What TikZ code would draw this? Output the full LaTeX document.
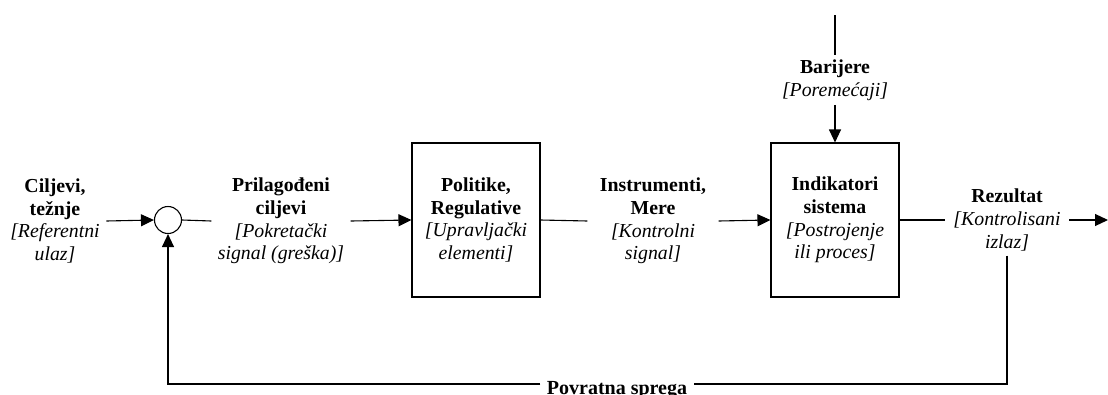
\documentclass[tikz,border=0pt]{standalone}
\usepackage{fontspec}
\setmainfont{Liberation Serif}
\usetikzlibrary{arrows.meta}

\begin{document}
\begin{tikzpicture}[x=1pt, y=-1pt, line width=1.1pt,
  lbl/.style={align=center, font=\fontsize{19.8}{22.8}\selectfont, inner xsep=6pt, inner ysep=4pt},
  blk/.style={lbl, draw, minimum width=128pt, minimum height=154pt},
  sumpt/.style={draw, circle, minimum size=27pt, inner sep=0pt},
  arr/.style={-{Triangle[length=13pt, width=12pt]}}]
  \useasboundingbox (0,0) rectangle (1108,394);

  % signal labels and blocks
  \node[lbl] (goal) at (55,221) {\textbf{Ciljevi,}\\\textbf{težnje}\\\textit{[Referentni}\\\textit{ulaz]}};
  \node[sumpt] (sum) at (168,220) {};
  \node[lbl] (err) at (281,221) {\textbf{Prilagođeni}\\\textbf{ciljevi}\\\textit{[Pokretački}\\\textit{signal (greška)]}};
  \node[blk] (ctrl) at (476,220) {\textbf{Politike,}\\\textbf{Regulative}\\\textit{[Upravljački}\\\textit{elementi]}};
  \node[lbl, inner xsep=12pt] (cs) at (653,221) {\textbf{Instrumenti,}\\\textbf{Mere}\\\textit{[Kontrolni}\\\textit{signal]}};
  \node[blk] (plant) at (835,220) {\textbf{Indikatori}\\\textbf{sistema}\\\textit{[Postrojenje}\\\textit{ili proces]}};
  \node[lbl] (dist) at (835,80) {\textbf{Barijere}\\\textit{[Poremećaji]}};
  \node[lbl, inner xsep=8pt] (out) at (1007,220) {\textbf{Rezultat}\\\textit{[Kontrolisani}\\\textit{izlaz]}};
  \node[font=\fontsize{20}{24}\selectfont\bfseries, inner xsep=6pt, anchor=base] (fb) at (617,394) {Povratna sprega};

  \coordinate (dtop) at (835,15);
  \coordinate (yend) at (1108,220);

  % forward path
  \draw[arr] (goal.east) -- (sum.west);
  \draw (sum.east) -- (err.west);
  \draw[arr] (err.east) -- (ctrl.west);
  \draw (ctrl.east) -- (cs.west);
  \draw[arr] (cs.east) -- (plant.west);
  \draw (plant.east) -- (out.west);
  \draw[arr] (out.east) -- (yend);

  % disturbance
  \draw (dtop) -- (dist.north);
  \draw[arr] (dist.south) -- (plant.north);

  % feedback loop
  \draw (out.south) |- (fb.east |- 0,384);
  \draw[arr] (fb.west |- 0,384) -| (sum.south);
\end{tikzpicture}
\end{document}
